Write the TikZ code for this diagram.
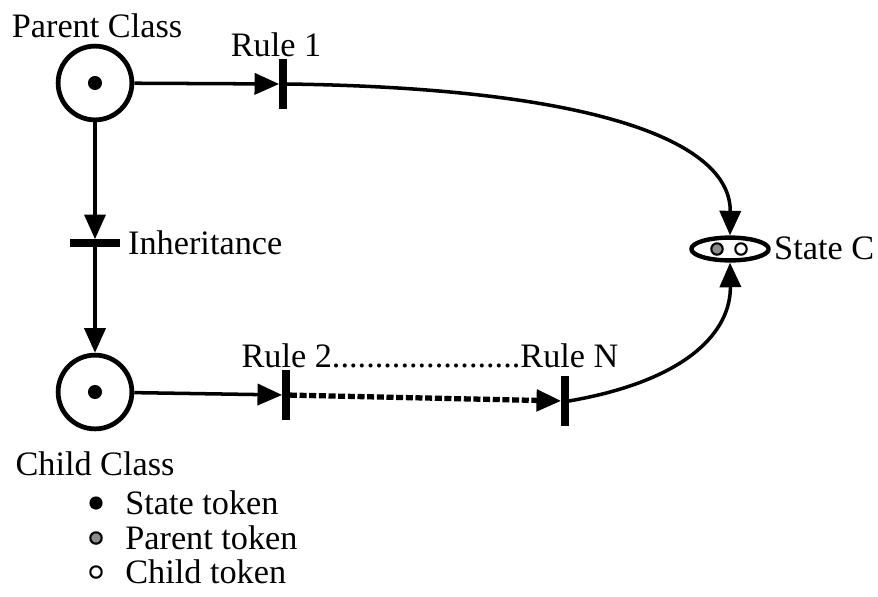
\documentclass[tikz,border=0pt]{standalone}
\usepackage{fontspec}
\setmainfont{Liberation Serif}
\usetikzlibrary{arrows.meta,shapes.geometric}
\begin{document}
\begin{tikzpicture}[x=0.02cm,y=-0.02cm,line join=round,>={Triangle[length=14pt,width=12pt]},
	font=\fontsize{19.5}{23}\selectfont,
	place/.style={circle,draw,line width=2.7pt,minimum size=42pt,inner sep=0pt},
	vbar/.style={fill=black,minimum width=4pt,minimum height=28pt,inner sep=0pt},
	hbar/.style={fill=black,minimum width=28pt,minimum height=4pt,inner sep=0pt},
	arc/.style={->,line width=2pt},
	token/.style={circle,draw,line width=1.2pt,minimum size=6.5pt,inner sep=0pt},
	key/.style={anchor=base west,inner sep=0pt}]
	\useasboundingbox (0,0) rectangle (878,596);
	% places
	\node[place] (parent) at (95,83) {};
	\node[place] (child) at (95,392) {};
	\node[ellipse,draw,line width=2.5pt,minimum width=44pt,minimum height=13pt,inner sep=0pt] (statec) at (730,249) {};
	\node[circle,fill=black,minimum size=8pt,inner sep=0pt] (ptok) at (parent) {};
	\node[circle,fill=black,minimum size=8pt,inner sep=0pt] (ctok) at (child) {};
	\node[token,fill=black!45] (sgray) at (717,249) {};
	\node[token,fill=white] (swhite) at (741,249) {};
	% transitions
	\node[vbar] (rule1) at (283,84) {};
	\node[hbar] (inh) at (95,243) {};
	\node[vbar] (rule2) at (286,395) {};
	\node[vbar] (ruleN) at (565,401) {};
	% labels
	\node (lparent) at (97,26) {Parent Class};
	\node (lrule1) at (276,45) {Rule 1};
	\node[anchor=west] (linh) at (122,243) {Inheritance};
	\node (lchild) at (95,464) {Child Class};
	\node (lrules) at (430,356) {Rule 2......................Rule N};
	\node[anchor=west] (lstate) at (768,248) {State C};
	% arcs
	\draw[arc] (parent) -- (rule1);
	\draw[arc] (parent) -- (inh);
	\draw[arc] (inh) -- (child);
	\draw[arc] (child) -- (rule2);
	\draw[arc,dash pattern=on 4pt off 1.5pt,line width=3pt] (rule2) -- (ruleN);
	\draw[arc] (rule1.east) .. controls (590,88) and (731,140) .. (statec.north);
	\draw[arc] (ruleN.east) .. controls (690,380) and (731,330) .. (statec.south);
	% legend
	\node[circle,fill=black,minimum size=7.5pt,inner sep=0pt] (kstate) at (96,503) {};
	\node[token,fill=black!45] (kparent) at (96,538) {};
	\node[token,fill=white] (kchild) at (96,572) {};
	\node[key] (lkstate) at (125,514) {State token};
	\node[key] (lkparent) at (125,549) {Parent token};
	\node[key] (lkchild) at (125,583) {Child token};
\end{tikzpicture}
\end{document}
